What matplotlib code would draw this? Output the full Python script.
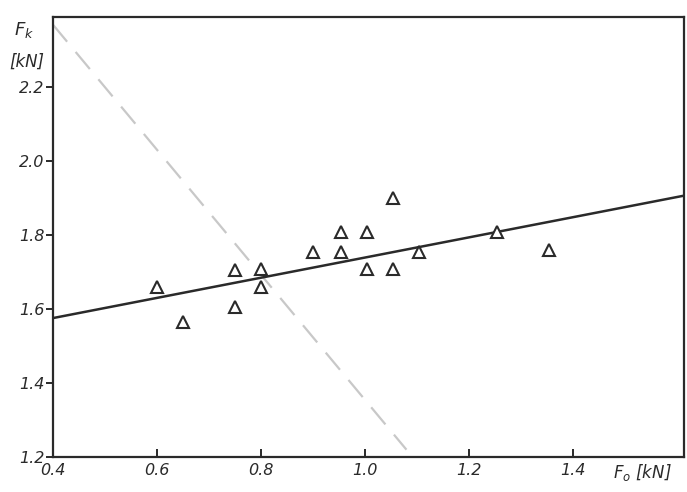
import numpy as np
import matplotlib
matplotlib.use("Agg")
import matplotlib.pyplot as plt

# measured points, F_o vs F_k [kN]
f_o = [0.60, 0.65, 0.75, 0.75, 0.80, 0.80, 0.90, 0.955, 0.955,
       1.005, 1.005, 1.055, 1.055, 1.105, 1.255, 1.355]
f_k = [1.66, 1.565, 1.705, 1.605, 1.71, 1.66, 1.755, 1.81, 1.755,
       1.81, 1.71, 1.90, 1.71, 1.755, 1.81, 1.76]

# fitted line end points
fit_x = [0.4, 1.613]
fit_y = [1.576, 1.907]

# faint dashed trace showing through the page
trace_x = [0.40, 1.08]
trace_y = [2.37, 1.22]

xticks = [0.4, 0.6, 0.8, 1.0, 1.2, 1.4]
yticks = [1.2, 1.4, 1.6, 1.8, 2.0, 2.2]

ink = "#2a2a2a"
plt.rcParams['font.family'] = ['DejaVu Sans']

fig = plt.figure(figsize=(6.87, 4.92), dpi=100)
ax = fig.add_axes([0.077, 0.071, 0.918, 0.894])

ax.plot(trace_x, trace_y, color="#c8c8c8", lw=1.6, ls=(0, (10, 6)), zorder=1)
ax.plot(fit_x, fit_y, color=ink, lw=1.8, zorder=2)
ax.plot(f_o, f_k, ls="none", marker="^", ms=9, mfc="white", mec=ink, mew=1.5, zorder=3)

ax.set_xlim(0.4, 1.613)
ax.set_ylim(1.2, 2.39)
ax.set_xticks(xticks)
ax.set_yticks(yticks)
ax.set_xticklabels([f"{v:.1f}" for v in xticks], fontstyle="italic", fontsize=11.5, color=ink)
ax.set_yticklabels([f"{v:.1f}" for v in yticks], fontstyle="italic", fontsize=11.5, color=ink)
ax.tick_params(axis="x", direction="in", length=6, width=1.4, color=ink, pad=4)
ax.tick_params(axis="y", direction="out", length=5, width=1.4, color=ink, pad=1)
for s in ax.spines.values():
    s.set_linewidth(1.6)
    s.set_color(ink)

ax.text(-0.045, 0.972, "$F_k$", transform=ax.transAxes, fontsize=13, fontstyle="italic",
        color=ink, ha="center", va="center")
ax.text(-0.042, 0.898, "[kN]", transform=ax.transAxes, fontsize=12, fontstyle="italic",
        color=ink, ha="center", va="center")
ax.text(0.935, -0.035, "$F_o$ [kN]", transform=ax.transAxes, fontsize=12, fontstyle="italic",
        color=ink, ha="center", va="center")

fig.savefig("out.png", dpi=100)
